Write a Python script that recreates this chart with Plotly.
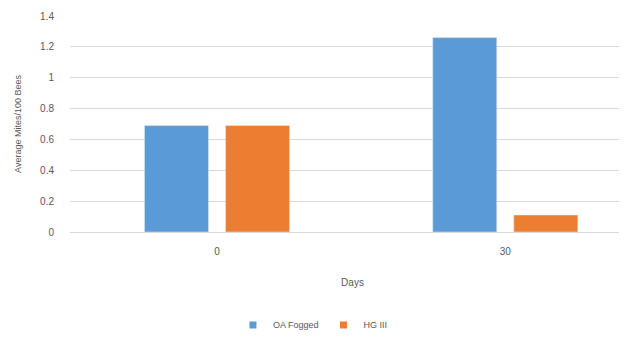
import plotly.graph_objects as go

days = ["0", "30"]
oa_fogged = [0.69, 1.26]
hg_iii = [0.69, 0.11]
y_ticks = [0, 0.2, 0.4, 0.6, 0.8, 1, 1.2, 1.4]

BLUE = "#5B9BD5"
ORANGE = "#ED7D31"
TEXT = "#595959"
FONT = "Liberation Sans, Arial, sans-serif"


def build_figure():
    fig = go.Figure()
    fig.add_trace(go.Bar(x=days, y=oa_fogged, name="OA Fogged", marker_color=BLUE, showlegend=False))
    fig.add_trace(go.Bar(x=days, y=hg_iii, name="HG III", marker_color=ORANGE, showlegend=False))
    # small square legend keys, like the spreadsheet legend
    for name, color in [("OA Fogged", BLUE), ("HG III", ORANGE)]:
        fig.add_trace(go.Scatter(
            x=[None], y=[None], mode="markers", name=name,
            marker=dict(symbol="square", size=7, color=color),
        ))

    fig.update_layout(
        width=627,
        height=341,
        margin=dict(l=62, r=0, t=8, b=117),
        paper_bgcolor="white",
        plot_bgcolor="white",
        barmode="group",
        bargap=0.4375,
        bargroupgap=0.21,
        font=dict(family=FONT, size=10, color=TEXT),
        showlegend=True,
        legend=dict(
            orientation="h",
            x=0.43,
            xanchor="center",
            y=-0.43,
            yanchor="middle",
            font=dict(size=9, color=TEXT),
            itemwidth=30,
            tracegroupgap=0,
        ),
    )
    fig.update_xaxes(
        type="category",
        range=[-0.51, 1.45],
        showgrid=False,
        showline=True,
        linecolor="#d9d9d9",
        linewidth=1,
        ticks="",
        ticklabelstandoff=10,
        title=dict(text="Days", font=dict(size=10, color=TEXT), standoff=22),
    )
    fig.update_yaxes(
        range=[0, 1.4],
        tickvals=y_ticks,
        ticktext=[f"{v:g}" for v in y_ticks],
        showgrid=True,
        gridcolor="#d9d9d9",
        zeroline=False,
        ticks="",
        ticklabelstandoff=15,
        title=dict(text="Average Mites/100 Bees", font=dict(size=9, color=TEXT), standoff=16),
    )
    return fig


def main():
    fig = build_figure()
    fig.write_html("out.html")


if __name__ == "__main__":
    main()
